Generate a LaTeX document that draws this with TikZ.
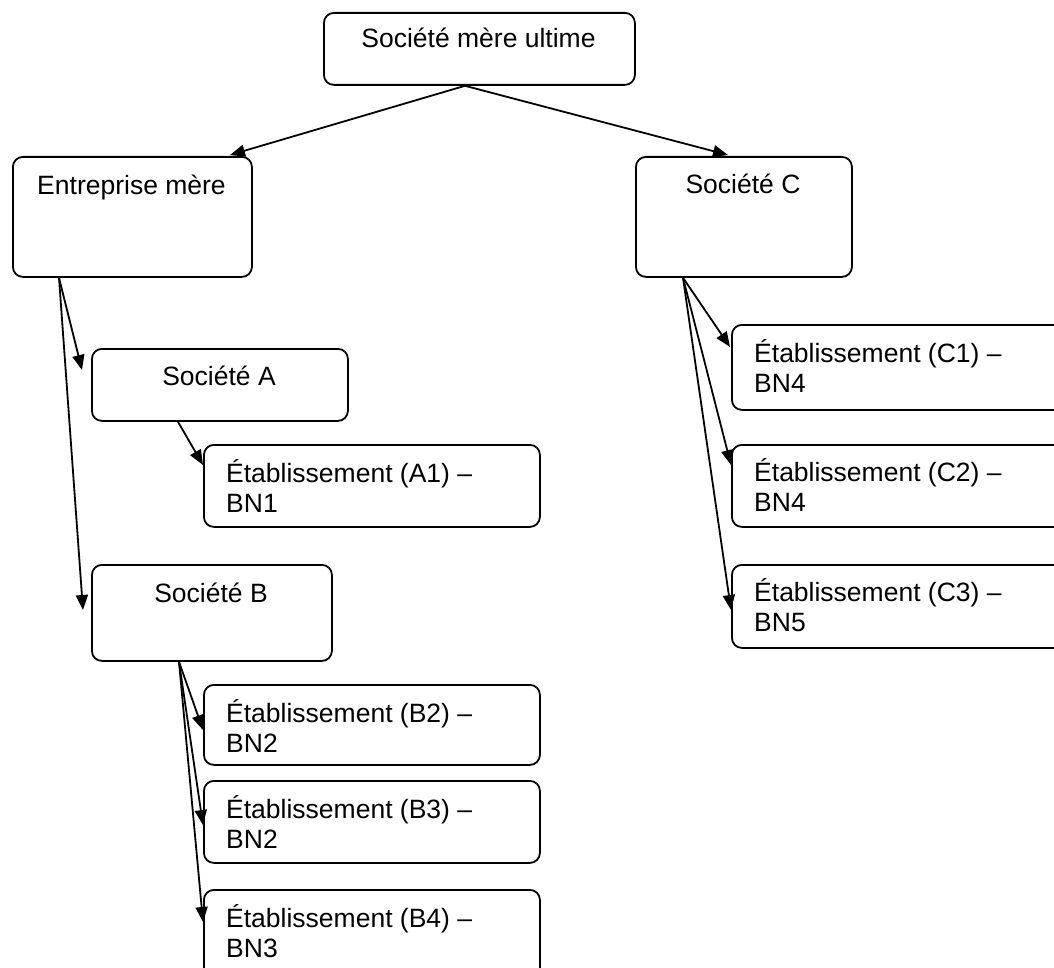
\documentclass[tikz,border=0pt]{standalone}
\usepackage{fontspec}
\setmainfont{Liberation Sans}
\usetikzlibrary{calc,arrows.meta}
\tikzset{
  box/.style={draw=black, line width=1.8pt, rounded corners=10pt, inner sep=0pt, anchor=north west, fill=white},
  lbl/.style={inner sep=0pt, font=\fontsize{26.5}{30}\selectfont},
  arr/.style={draw=black, line width=1.8pt, -{Triangle[length=15pt,width=12pt]}}
}
\newcommand{\twol}[2]{\begin{tabular}[t]{@{}l@{}}#1\\#2\end{tabular}}
\begin{document}
\begin{tikzpicture}[x=1pt,y=-1pt]
\clip (0,0) rectangle (1054,968);
\fill[white] (0,0) rectangle (1054,968);
% boxes
\node[box, minimum width=311pt, minimum height=72pt] (top) at (323,12) {};
\node[box, minimum width=239pt, minimum height=120pt] (ent) at (12,156) {};
\node[box, minimum width=216pt, minimum height=120pt] (socC) at (635,156) {};
\node[box, minimum width=256pt, minimum height=72pt] (socA) at (91,348) {};
\node[box, minimum width=336pt, minimum height=82pt] (A1) at (203,444) {};
\node[box, minimum width=240pt, minimum height=96pt] (socB) at (91,564) {};
\node[box, minimum width=336pt, minimum height=80pt] (B2) at (203,684) {};
\node[box, minimum width=336pt, minimum height=82pt] (B3) at (203,780) {};
\node[box, minimum width=336pt, minimum height=100pt] (B4) at (203,889) {};
\node[box, minimum width=336pt, minimum height=85pt] (C1) at (731,324) {};
\node[box, minimum width=336pt, minimum height=82pt] (C2) at (731,444) {};
\node[box, minimum width=336pt, minimum height=83pt] (C3) at (731,564) {};
% texts
\node[lbl, anchor=base] (topt) at (478.5,48) {Société mère ultime};
\node[lbl, anchor=base] (entt) at (131.5,195) {Entreprise mère};
\node[lbl, anchor=base] (socCt) at (743,194) {Société C};
\node[lbl, anchor=base] (socAt) at (219,385) {Société A};
\node[lbl, anchor=base] (socBt) at (211,602) {Société B};
\node[lbl, anchor=base west] (A1t) at (226,482) {\twol{Établissement (A1) –}{BN1}};
\node[lbl, anchor=base west] (B2t) at (226,722) {\twol{Établissement (B2) –}{BN2}};
\node[lbl, anchor=base west] (B3t) at (226,818) {\twol{Établissement (B3) –}{BN2}};
\node[lbl, anchor=base west] (B4t) at (226,927) {\twol{Établissement (B4) –}{BN3}};
\node[lbl, anchor=base west] (C1t) at (754,362) {\twol{Établissement (C1) –}{BN4}};
\node[lbl, anchor=base west] (C2t) at (754,481) {\twol{Établissement (C2) –}{BN4}};
\node[lbl, anchor=base west] (C3t) at (754,601) {\twol{Établissement (C3) –}{BN5}};
% connectors
\draw[arr] ($(top.south west)+(142,0)$) -- ($(ent.north west)+(218,-1)$);
\draw[arr] ($(top.south west)+(142,0)$) -- ($(socC.north west)+(93,-1)$);
\draw[arr] ($(ent.south west)+(47,0)$) -- ($(socA.north west)+(-9,22)$);
\draw[arr] ($(ent.south west)+(47,0)$) -- ($(socB.north west)+(-8,46)$);
\draw[arr] ($(socA.south west)+(87,0)$) -- ($(A1.north west)+(0,21)$);
\draw[arr] ($(socB.south west)+(88,0)$) -- ($(B2.north west)+(0,46)$);
\draw[arr] ($(socB.south west)+(88,0)$) -- ($(B3.north west)+(0,45)$);
\draw[arr] ($(socB.south west)+(88,0)$) -- ($(B4.north west)+(0,33)$);
\draw[arr] ($(socC.south west)+(48,0)$) -- ($(C1.north west)+(-1,23)$);
\draw[arr] ($(socC.south west)+(48,0)$) -- ($(C2.north west)+(0,21)$);
\draw[arr] ($(socC.south west)+(48,0)$) -- ($(C3.north west)+(0,46)$);
\end{tikzpicture}
\end{document}
